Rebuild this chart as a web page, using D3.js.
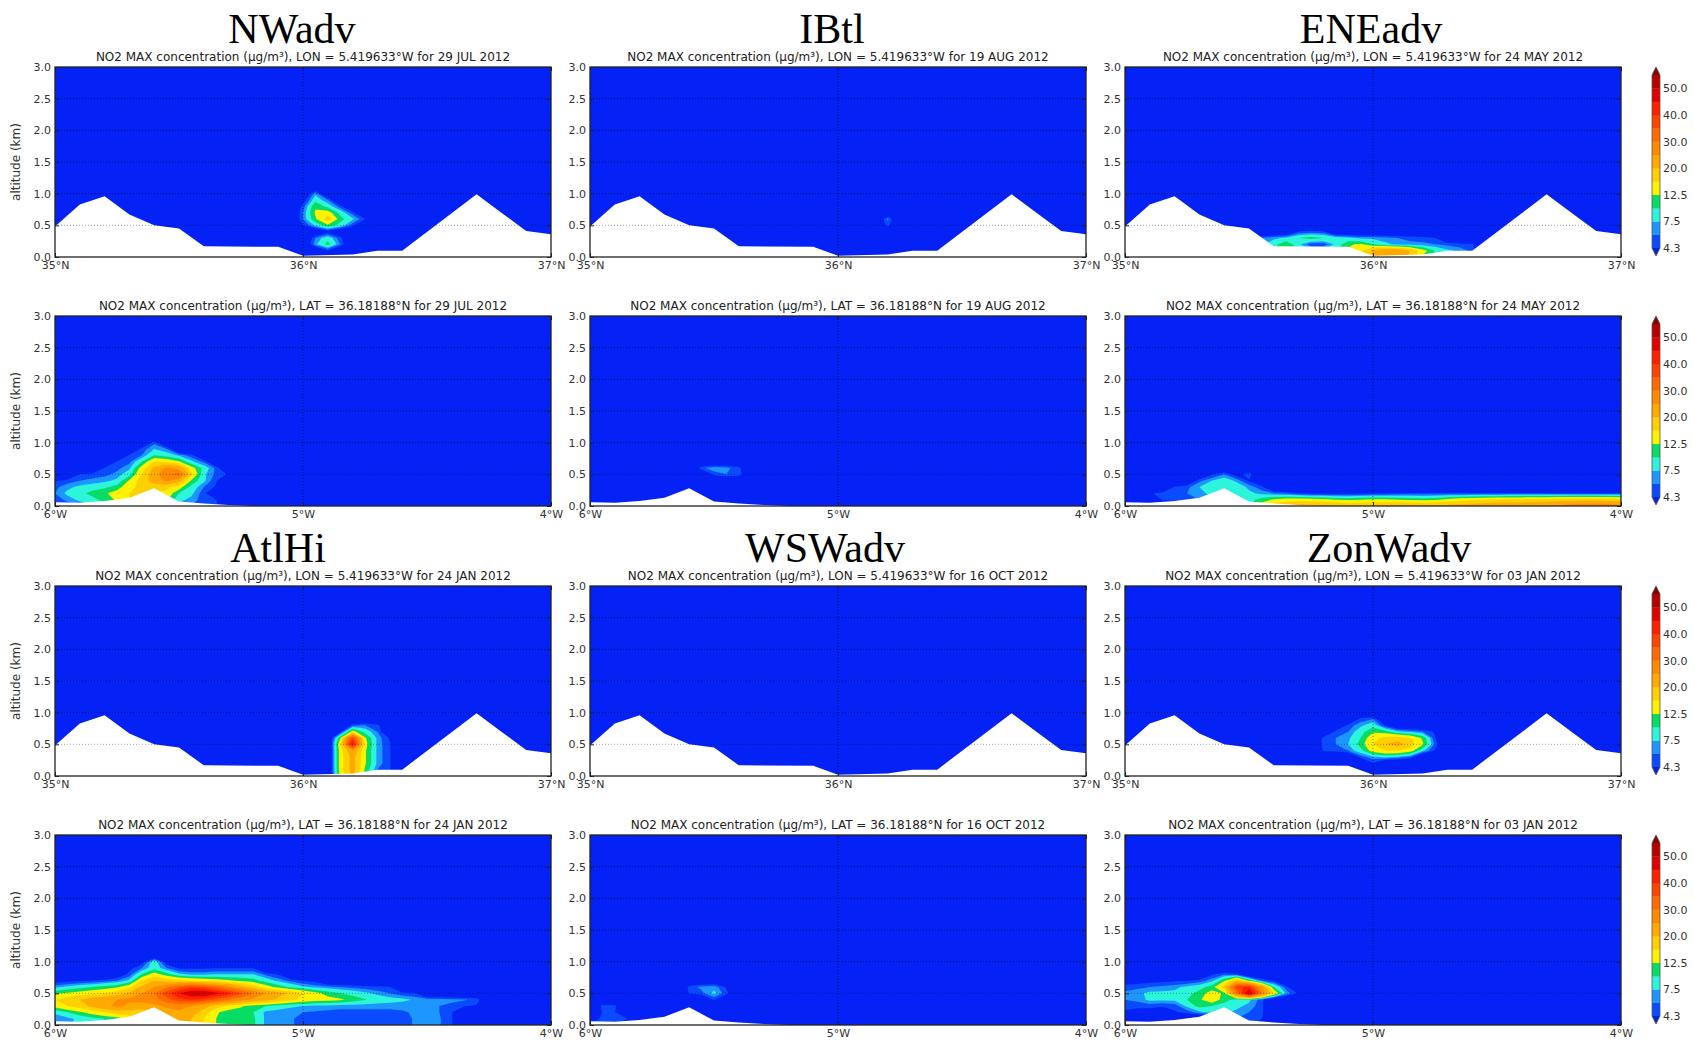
<!DOCTYPE html>
<html>
<head>
<meta charset="utf-8">
<script src="https://cdn.jsdelivr.net/npm/d3@7"></script>
<style>
  html, body { margin: 0; padding: 0; background: #fff; }
  svg { display: block; }
  .axis text { font-family: "DejaVu Sans", sans-serif; font-size: 11px; fill: #333; }
  .axis line { stroke: #222; }
</style>
</head>
<body>
<svg id="fig" width="1695" height="1042"></svg>
<script>
// ---- regimes, dates and cross sections ----
const regimes = ["NWadv", "IBtl", "ENEadv", "AtlHi", "WSWadv", "ZonWadv"];
const dates = ["29 JUL 2012", "19 AUG 2012", "24 MAY 2012", "24 JAN 2012", "16 OCT 2012", "03 JAN 2012"];
const sectionLon = "5.419633°W";
const sectionLat = "36.18188°N";

// ---- contour levels (µg/m³) and colours ----
const levels = [4.3, 6, 7.5, 10, 12.5, 16, 20, 25, 30, 35, 40, 45, 50, 55];
const levelLabels = [4.3, 7.5, 12.5, 20, 30, 40, 50];
const bandColors = ["#0b4bff", "#1e96ff", "#2cf5dc", "#08dc64", "#fff200", "#ffd000",
                    "#ffaa00", "#ff8a00", "#ff6a00", "#ff4400", "#ff1e00", "#e00000", "#b40000"];
const overColor = "#800000";
const underColor = "#0a20e0";
const bgColor = "#0422f6";

// ---- axes ----
const altTicks = [0, 0.5, 1, 1.5, 2, 2.5, 3];
const gridAlt = [0.5, 1, 1.5, 2, 2.5];
const latTicks = [35, 36, 37];
const lonTicks = [-6, -5, -4];

// ---- orography along each section (km) ----
const ridgeLat = [35.0, 35.1, 35.2, 35.3, 35.4, 35.5, 35.6, 35.9, 36.0, 36.2, 36.3, 36.4, 36.7, 36.8, 36.9, 37.0];
const ridgeLatAlt = [0.48, 0.83, 0.96, 0.67, 0.50, 0.45, 0.17, 0.16, 0.02, 0.04, 0.10, 0.10, 0.99, 0.70, 0.41, 0.36];
const ridgeLon = [-6.0, -5.9, -5.8, -5.7, -5.6, -5.5, -5.4, -5.3, -5.2, -4.0];
const ridgeLonAlt = [0.06, 0.05, 0.08, 0.13, 0.28, 0.07, 0.04, 0.015, 0.0, 0.0];

// ---- NO2 fields: rows of [altitude km, first coordinate, values every 0.05°] ----
const nwadvLon = [
  [1.0, 36.05, [7]],
  [0.9, 36.00, [3, 9, 6]],
  [0.8, 36.00, [5, 12, 9, 5]],
  [0.7, 36.00, [6, 13, 14, 9, 5]],
  [0.6, 36.00, [6, 12, 18, 11, 8, 4.5]],
  [0.5, 36.00, [4, 8, 12, 9, 5]],
  [0.4, 36.10, [3]],
  [0.3, 36.05, [6, 9, 5]],
  [0.2, 36.05, [7, 11, 6]],
  [0.1, 36.10, [4]]
];
const ibtlLon = [
  [0.6, 36.20, [6.5]],
  [0.5, 36.20, [5]]
];
const eneadvLon = [
  [0.4, 35.70, [4.4, 5, 4.6]],
  [0.3, 35.55, [6, 7, 8, 10, 11, 10, 9, 8, 7, 7, 6.5, 6, 5.5, 5, 4.4]],
  [0.2, 35.50, [4, 7, 9, 12, 8, 5, 5, 8, 12, 13, 10, 8, 7, 6.5, 6.5, 6, 5.5, 5, 4.6]],
  [0.1, 35.50, [5, 8, 10, 12, 10, 8, 8, 10, 13, 15, 21, 24, 24, 20, 14, 10, 8, 7, 5.5]],
  [0.0, 35.95, [14, 20, 23, 23, 19, 12, 9, 7, 5]]
];
const atlhiLon = [
  [0.8, 36.20, [5, 6, 5]],
  [0.7, 36.15, [3.5, 14, 9, 6]],
  [0.6, 36.15, [12, 38, 13, 7, 4]],
  [0.5, 36.15, [15, 46, 14, 7, 4.5]],
  [0.4, 36.15, [14, 24, 13, 7, 4.5]],
  [0.3, 36.15, [14, 22, 13, 7, 4.5]],
  [0.2, 36.15, [14, 22, 13, 7, 4.5]],
  [0.1, 36.15, [14, 22, 12, 6, 4.4]],
  [0.0, 36.15, [13, 21, 11, 5]]
];
const wswadvLon = [];
const zonwadvLon = [
  [0.9, 35.95, [5, 6]],
  [0.8, 35.90, [5, 7, 9, 4]],
  [0.7, 35.85, [5, 6, 9, 12, 11, 8, 7, 6, 4]],
  [0.6, 35.80, [5, 6, 7, 10, 15, 17, 18, 16, 12, 4.5]],
  [0.5, 35.80, [5, 6, 7.5, 11, 16, 20, 22, 18, 13, 5.5]],
  [0.4, 35.80, [4.5, 5, 6, 9, 14, 16, 16, 14, 8, 4]],
  [0.3, 35.95, [5, 7, 8, 7, 5.5]],
  [0.2, 36.00, [4]]
];

const nwadvLat = [
  [1.0, -5.60, [5.5]],
  [0.9, -5.65, [5, 7.5, 6]],
  [0.8, -5.70, [4.5, 6, 10, 9, 7, 5]],
  [0.7, -5.75, [4.5, 5.5, 10, 16, 15, 13, 8, 5.5]],
  [0.6, -5.80, [4.4, 5.5, 7, 14, 21, 26, 23, 14, 9, 5.5]],
  [0.5, -5.90, [4.4, 5, 5.5, 6.5, 9, 16, 23, 29, 32, 17, 8, 5.5, 4]],
  [0.4, -6.00, [4, 5, 6, 6.5, 7, 8, 13, 18, 22, 26, 22, 12, 8, 4.5]],
  [0.3, -6.00, [5.5, 7, 8, 8.5, 9.5, 11, 15, 17, 18, 17, 14, 9, 6, 4]],
  [0.2, -6.00, [6, 8, 9, 11, 12, 14, 16, 18, 16, 15, 10, 8, 5]],
  [0.1, -6.00, [5, 6.5, 8, 9, 11, 13, 16, 17, 15, 13, 8, 7, 5, 4.5]],
  [0.0, -6.00, [4.5, 5, 6, 7, 8, 10, 12, 13, 12, 10, 7, 6, 5, 4.5]]
];
const ibtlLat = [
  [0.6, -5.55, [5.5, 7, 6.5, 5]],
  [0.5, -5.50, [5, 6, 5.5]]
];
const eneadvLat = [
  [0.5, -5.65, [4, 6, 3, 5.5]],
  [0.4, -5.70, [5.5, 7.5, 9, 7, 4]],
  [0.3, -5.80, [4.5, 5.5, 7.5, 9, 10, 9, 7, 5]],
  [0.2, -5.90, [4, 5, 5.5, 6, 7, 8, 8.5, 9, 8, 7, 6, 5.5,
                4.2, 3.8, 3.5, 3.5, 3.6, 3.8, 4.0, 4.2, 4.4, 4.5, 4.6, 4.6, 4.7, 4.7,
                4.6, 4.6, 4.5, 4.5, 4.5, 4.5, 4.5, 4.4, 4.4, 4.4, 4.4, 4.4, 4.4]],
  [0.1, -5.85, [4.5, 5, 5.5, 6, 7, 8, 8, 9, 11, 13, 14, 14.5, 14, 13.5, 12.5, 12, 12.5, 13, 13,
                12.5, 12, 11.5, 12, 13.5, 14.5, 15.5, 16, 16.5, 17, 17, 17.5, 17.5, 18, 18.5, 18.5, 18.5, 18, 17.5]],
  [0.0, -5.55, [8, 10, 14, 18, 21, 22, 22, 21, 20, 19, 19, 20, 20.5, 21, 21, 20.5, 21, 21.5,
                22, 22.5, 23, 23.5, 24, 24, 24.5, 25, 26, 27.5, 28.5, 28.5, 28, 27]]
];
const atlhiLat = [
  [1.0, -5.65, [3, 9, 3]],
  [0.9, -5.70, [3.5, 6, 9, 6, 4, 4, 4, 4.2, 4.2, 4.2, 4.2]],
  [0.8, -5.75, [2, 5, 10, 14, 11, 8, 7, 7, 7.5, 7.5, 7.5, 7.5, 5.5, 4.2]],
  [0.7, -6.00, [3, 3.5, 4, 4.4, 5, 6, 8, 16, 20, 18, 17, 16, 15, 14, 13, 12, 11, 9, 7, 5.5, 4.2, 3.5]],
  [0.6, -6.00, [7, 8, 9, 10, 11, 12, 15, 21, 25, 29, 34, 38, 36, 32, 27, 22, 18, 14, 11.5, 9.5,
                8, 7, 6.5, 6, 5.5, 5, 4.6, 4.4]],
  [0.5, -6.00, [12, 13, 14, 15, 16, 18, 21, 25, 30, 38, 45, 50, 51, 47, 42, 36, 30, 25, 22, 19,
                16, 13.5, 11.5, 10, 9, 8, 7, 6, 5, 4.5]],
  [0.4, -6.00, [16, 18, 20, 22, 24, 25, 26, 27, 28, 33, 38, 40, 38, 34, 30, 27, 24, 22, 19, 17,
                15, 14, 13.5, 13, 11.5, 10.2, 9, 8.5, 8, 7.3, 7, 6.8, 6.5, 6.2, 5.5]],
  [0.3, -6.00, [14, 16, 18, 21, 24, 26, 24, 22, 24, 26, 27, 25, 22, 18, 15, 13, 11, 10, 9, 8,
                7.5, 7, 7, 6.5, 6.5, 6.5, 6.5, 6.5, 6.5, 6.5, 6.5, 6, 5.5, 4.5, 4]],
  [0.2, -6.00, [8, 10, 12, 14, 16, 18, 18, 18, 20, 23, 24, 22, 18, 13, 11, 11, 10, 7, 6.5, 6.2,
                6, 5.8, 5.5, 5.5, 5.5, 5.5, 5.5, 5.5, 5.8, 6.2, 6.5, 6, 4.5]],
  [0.1, -6.00, [6, 7, 8, 9, 10, 11, 14, 16, 18, 22, 22, 20, 16, 12.5, 11, 11, 10.5, 7, 6.5, 6.2,
                5.5, 5.2, 5, 5, 5, 5, 5, 5, 5.2, 6.2, 6.5, 6.2, 4.5]],
  [0.0, -6.00, [6, 7, 8, 9, 10, 11, 14, 16, 18, 22, 22, 20, 16, 12.5, 11, 11, 10.5, 7, 6.5, 6.2,
                5.5, 5.2, 5, 5, 5, 5, 5, 5, 5.2, 6.2, 6.5, 6.2, 4.5]]
];
const wswadvLat = [
  [0.6, -5.60, [5, 6.5, 7, 4]],
  [0.5, -5.60, [4.5, 5.5, 8, 5]],
  [0.4, -5.50, [4.5]],
  [0.3, -5.95, [5, 4.8]],
  [0.2, -5.95, [4.4, 4.4]],
  [0.1, -5.95, [5.5, 5.5, 4.4]],
  [0.0, -6.00, [5, 5.5, 5]]
];
const zonwadvLat = [
  [0.8, -5.65, [4, 5.5, 4.5]],
  [0.7, -6.00, [3, 3, 3.5, 3.5, 4, 4.2, 5, 7, 12, 20, 12, 6, 4]],
  [0.6, -6.00, [5, 5.5, 6, 6.5, 7, 8, 9, 11, 18, 38, 42, 25, 10, 5]],
  [0.5, -6.00, [6.5, 7, 8, 8, 8, 9, 11, 14, 12, 30, 52, 30, 16, 7, 4]],
  [0.4, -6.00, [6, 6.5, 8, 8, 8, 10, 12, 15, 11, 9, 8, 5]],
  [0.3, -6.00, [5, 5, 5, 4.5, 5, 8, 11, 10, 9, 8, 7, 5]],
  [0.2, -6.00, [4, 3, 3, 3, 4, 5, 7, 8, 8, 7, 6, 5]],
  [0.1, -5.60, [6, 6, 5.5, 4.5]],
  [0.0, -5.50, [5]]
];

const lonSections = [nwadvLon, ibtlLon, eneadvLon, atlhiLon, wswadvLon, zonwadvLon];
const latSections = [nwadvLat, ibtlLat, eneadvLat, atlhiLat, wswadvLat, zonwadvLat];

// ---- layout ----
const W = 1695, H = 1042;
const colLeft = [55, 590, 1125];
const rowTop = [67, 316, 586, 835];
const panelW = 496, panelH = 190;
const cbX = 1652, cbW = 8;
const titleX = [[292, 832, 1371], [278, 825, 1389]];
const titleBaseline = [43, 562];
const STEP_X = 0.05, STEP_Z = 0.1;

const svg = d3.select("#fig");
svg.append("rect").attr("width", W).attr("height", H).attr("fill", "#fff");

function drawPanel(g, kind, runs, date, withLabel, id) {
  const isLon = kind === "LON";
  const dom = isLon ? [35, 37] : [-6, -4];
  const x = d3.scaleLinear().domain(dom).range([0, panelW]);
  const y = d3.scaleLinear().domain([0, 3]).range([panelH, 0]);

  g.append("clipPath").attr("id", id).append("rect").attr("width", panelW).attr("height", panelH);
  const plot = g.append("g").attr("clip-path", `url(#${id})`);
  plot.append("rect").attr("width", panelW).attr("height", panelH).attr("fill", bgColor);

  // concentration grid on 0.05° x 0.1 km nodes
  const nx = Math.round((dom[1] - dom[0]) / STEP_X) + 1;
  const nz = Math.round(3 / STEP_Z) + 1;
  const values = new Float64Array(nx * nz);
  runs.forEach(([z, x0, vals]) => {
    const j = Math.round(z / STEP_Z);
    const i0 = Math.round((x0 - dom[0]) / STEP_X);
    vals.forEach((v, k) => { values[j * nx + i0 + k] = v; });
  });

  const bands = d3.contours().size([nx, nz]).thresholds(levels)(values);
  const toPlot = d3.geoTransform({
    point(px, py) {
      this.stream.point(x(dom[0] + (px - 0.5) * STEP_X), y((py - 0.5) * STEP_Z));
    }
  });
  const path = d3.geoPath(toPlot);
  plot.selectAll("path.band").data(bands).join("path")
    .attr("class", "band")
    .attr("d", path)
    .attr("fill", (d, i) => i < bandColors.length ? bandColors[i] : overColor);

  // orography masks the ground
  const ridgeX = isLon ? ridgeLat : ridgeLon;
  const ridgeZ = isLon ? ridgeLatAlt : ridgeLonAlt;
  const area = d3.area()
    .x((d, i) => x(ridgeX[i]))
    .y0(panelH + 4)
    .y1((d, i) => y(ridgeZ[i]));
  plot.append("path").attr("d", area(ridgeX)).attr("fill", "#fff");

  // dotted grid
  const grid = g.append("g").attr("stroke", "#000").attr("stroke-opacity", 0.55)
    .attr("stroke-width", 1).attr("stroke-dasharray", "1,2");
  gridAlt.forEach(a => grid.append("line").attr("x1", 0).attr("x2", panelW)
    .attr("y1", y(a)).attr("y2", y(a))
    .attr("stroke-opacity", a === 0.5 ? 0.35 : 0.55));
  const xt = isLon ? latTicks : lonTicks;
  grid.append("line").attr("x1", x(xt[1])).attr("x2", x(xt[1])).attr("y1", 0).attr("y2", panelH);

  // axes
  const yAxis = d3.axisLeft(y).tickValues(altTicks).tickFormat(d3.format(".1f"))
    .tickSizeInner(-4).tickSizeOuter(0).tickPadding(4);
  g.append("g").attr("class", "axis").call(yAxis).call(s => s.select(".domain").remove());
  const yAxisR = d3.axisRight(y).tickValues(altTicks).tickFormat("")
    .tickSizeInner(-4).tickSizeOuter(0);
  g.append("g").attr("class", "axis").attr("transform", `translate(${panelW},0)`)
    .call(yAxisR).call(s => s.select(".domain").remove());
  const fmt = isLon ? (d => d + "°N") : (d => Math.abs(d) + "°W");
  const xAxis = d3.axisBottom(x).tickValues(xt).tickFormat(fmt)
    .tickSizeInner(-4).tickSizeOuter(0).tickPadding(4);
  g.append("g").attr("class", "axis").attr("transform", `translate(0,${panelH})`)
    .call(xAxis).call(s => s.select(".domain").remove());
  const xAxisT = d3.axisTop(x).tickValues(xt).tickFormat("").tickSizeInner(-4).tickSizeOuter(0);
  g.append("g").attr("class", "axis").call(xAxisT).call(s => s.select(".domain").remove());

  g.append("rect").attr("width", panelW).attr("height", panelH)
    .attr("fill", "none").attr("stroke", "#222").attr("stroke-width", 1.3);

  g.append("text")
    .attr("x", panelW / 2).attr("y", -6)
    .attr("text-anchor", "middle")
    .attr("font-family", "DejaVu Sans, sans-serif").attr("font-size", 12).attr("fill", "#222")
    .text(`NO2 MAX concentration (µg/m³), ${kind} = ${isLon ? sectionLon : sectionLat} for ${date}`);

  if (withLabel) {
    g.append("text")
      .attr("transform", `translate(-35,${panelH / 2}) rotate(-90)`)
      .attr("text-anchor", "middle")
      .attr("font-family", "DejaVu Sans, sans-serif").attr("font-size", 12).attr("fill", "#333")
      .text("altitude (km)");
  }
}

function drawColorbar(ri) {
  const top = rowTop[ri] + 8, bottom = rowTop[ri] + panelH - 9;
  const s = d3.scaleLinear().domain([0, levels.length - 1]).range([bottom, top]);
  const g = svg.append("g").attr("transform", `translate(${cbX},0)`);
  g.selectAll("rect").data(bandColors).join("rect")
    .attr("x", 0).attr("width", cbW)
    .attr("y", (d, k) => s(k + 1)).attr("height", (d, k) => s(k) - s(k + 1) + 0.3)
    .attr("fill", d => d);
  g.append("path").attr("d", `M0,${top}L${cbW / 2},${top - 8}L${cbW},${top}Z`).attr("fill", overColor);
  g.append("path").attr("d", `M0,${bottom}L${cbW / 2},${bottom + 8}L${cbW},${bottom}Z`).attr("fill", underColor);
  g.append("path")
    .attr("d", `M0,${bottom}L0,${top}L${cbW / 2},${top - 8}L${cbW},${top}L${cbW},${bottom}L${cbW / 2},${bottom + 8}Z`)
    .attr("fill", "none").attr("stroke", "#555").attr("stroke-width", 0.8);
  const cbAxis = d3.axisRight(s)
    .tickValues(levelLabels.map(v => levels.indexOf(v)))
    .tickFormat(i => d3.format(".1f")(levels[i]))
    .tickSize(0).tickPadding(3);
  g.append("g").attr("class", "axis").attr("transform", `translate(${cbW},0)`)
    .call(cbAxis).call(a => a.select(".domain").remove());
}

const rows = [
  { kind: "LON", first: 0 },
  { kind: "LAT", first: 0 },
  { kind: "LON", first: 3 },
  { kind: "LAT", first: 3 }
];

rows.forEach((r, ri) => {
  for (let c = 0; c < 3; c++) {
    const idx = r.first + c;
    const runs = r.kind === "LON" ? lonSections[idx] : latSections[idx];
    const g = svg.append("g").attr("transform", `translate(${colLeft[c]},${rowTop[ri]})`);
    drawPanel(g, r.kind, runs, dates[idx], c === 0, `clip${ri}${c}`);
  }
  drawColorbar(ri);
});

// regime titles
[0, 1].forEach(t => {
  for (let c = 0; c < 3; c++) {
    svg.append("text")
      .attr("x", titleX[t][c]).attr("y", titleBaseline[t])
      .attr("text-anchor", "middle")
      .attr("font-family", "Liberation Serif, Times New Roman, serif")
      .attr("font-size", 42).attr("fill", "#000")
      .text(regimes[t * 3 + c]);
  }
});
</script>
</body>
</html>
